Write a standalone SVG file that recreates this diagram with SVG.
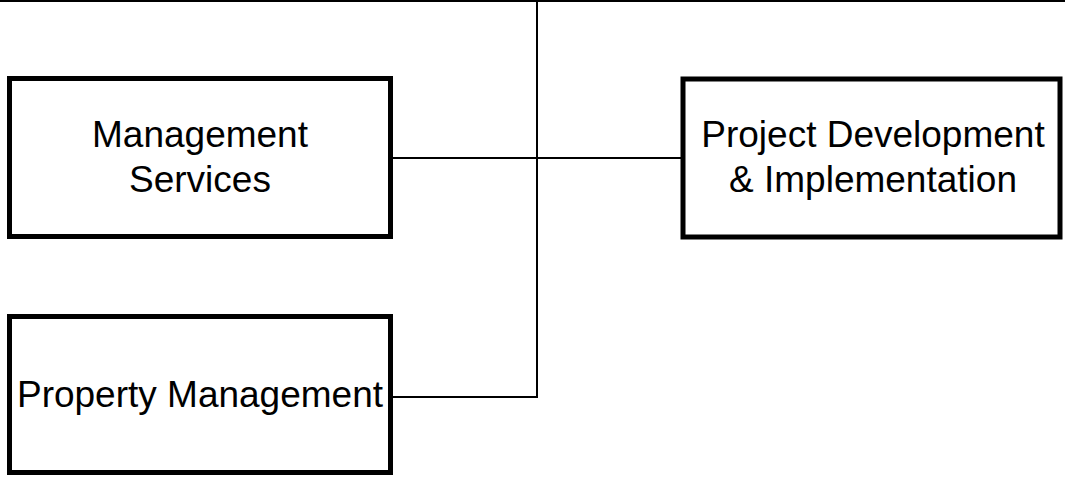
<svg xmlns="http://www.w3.org/2000/svg" width="1065" height="477" viewBox="0 0 1065 477">
  <style>
    .box { fill: #ffffff; stroke: #000000; stroke-width: 5; }
    .wire { fill: none; stroke: #000000; stroke-width: 2; }
    .label { font-family: "Liberation Sans", Arial, sans-serif; font-size: 37px; fill: #000000; text-anchor: middle; }
  </style>
  <rect width="1065" height="477" fill="#ffffff"/>
  <g id="connectors">
    <line class="wire" x1="0" y1="1" x2="1065" y2="1"/>
    <polyline class="wire" points="537,0 537,397 393,397"/>
    <line class="wire" x1="393" y1="158" x2="681" y2="158"/>
  </g>
  <g id="management-services">
    <rect class="box" x="9.5" y="78.5" width="381" height="158"/>
    <text class="label" x="200" y="147">Management</text>
    <text class="label" x="200" y="192">Services</text>
  </g>
  <g id="project-development">
    <rect class="box" x="683" y="79" width="377" height="158"/>
    <text class="label" x="873" y="147">Project Development</text>
    <text class="label" x="873" y="192">&amp; Implementation</text>
  </g>
  <g id="property-management">
    <rect class="box" x="9.5" y="316.5" width="381" height="156"/>
    <text class="label" x="200" y="407">Property Management</text>
  </g>
</svg>
